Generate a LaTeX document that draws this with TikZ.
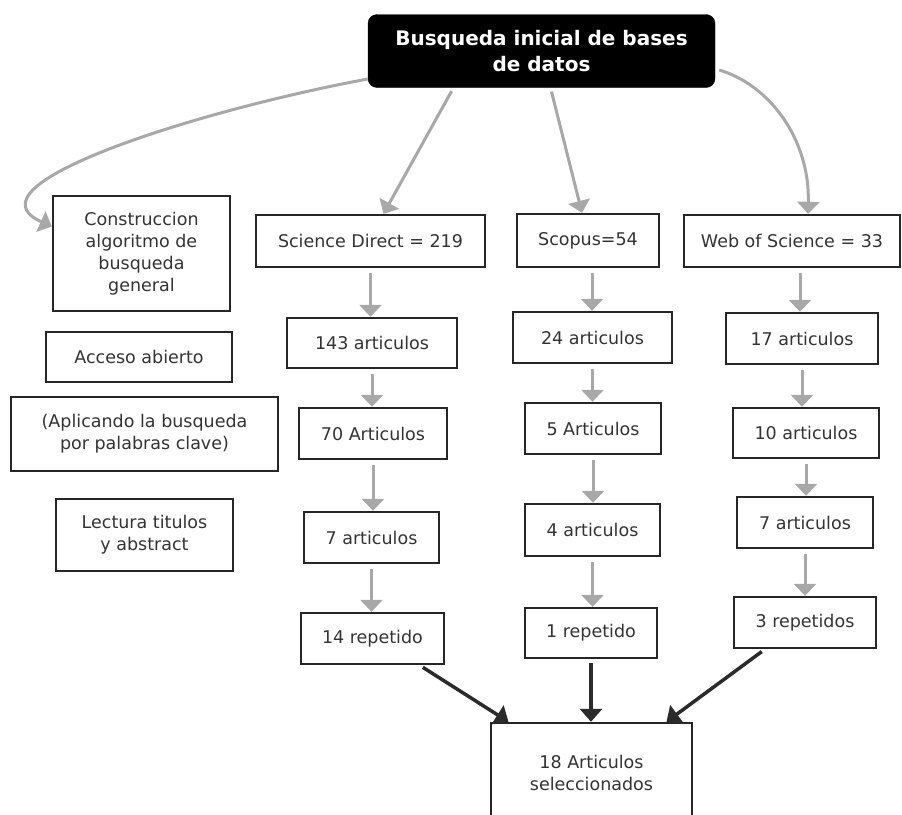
\documentclass[tikz,border=0pt]{standalone}
\usepackage{fontspec}
\setmainfont{DejaVu Sans}
\usetikzlibrary{arrows.meta,calc}
\definecolor{txt}{HTML}{333333}
\definecolor{bord}{HTML}{262626}
\definecolor{garrow}{HTML}{A8A8A8}
\definecolor{darrow}{HTML}{2B2B2B}
\begin{document}
\begin{tikzpicture}[x=1pt,y=-1pt,
  bx/.style={draw=bord,line width=2.4pt,inner sep=0pt,align=center,text=txt,
     font=\fontsize{17.5}{22}\selectfont},
  topbox/.style={fill=black,draw=black,rounded corners=9pt,inner sep=0pt,align=center,
     text=white,font=\bfseries\fontsize{20}{26}\selectfont},
  garr/.style={draw=garrow,line width=3pt,-{Triangle[width=22pt,length=12pt]},shorten <=5pt},
  darr/.style={draw=darrow,line width=3.5pt,-{Triangle[width=22pt,length=13pt]},shorten <=4pt}
]
\useasboundingbox (0,0) rectangle (902,814);
% nodes
\node[topbox,minimum width=347pt,minimum height=73pt] (top) at (541.5,51) {Busqueda inicial de bases\\de datos};
\node[bx,minimum width=177pt,minimum height=115pt] (cons) at (141.5,253.5) {Construccion\\algoritmo de\\busqueda\\general};
\node[bx,minimum width=186pt,minimum height=50pt] (acc) at (139,357) {Acceso abierto};
\node[bx,minimum width=267pt,minimum height=74pt] (apl) at (144.5,434) {(Aplicando la busqueda\\por palabras clave)};
\node[bx,minimum width=177pt,minimum height=72pt] (lec) at (144.5,535) {Lectura titulos\\y abstract};

\node[bx,minimum width=229pt,minimum height=52pt] (sd) at (370.5,241) {Science Direct = 219};
\node[bx,minimum width=142pt,minimum height=53pt] (sc) at (588,240.5) {Scopus=54};
\node[bx,minimum width=216pt,minimum height=52pt] (wos) at (792,241) {Web of Science = 33};

\node[bx,minimum width=170pt,minimum height=50pt] (a143) at (372,343) {143 articulos};
\node[bx,minimum width=159pt,minimum height=51pt] (a24) at (592.5,337.5) {24 articulos};
\node[bx,minimum width=152pt,minimum height=51pt] (a17) at (802,338.5) {17 articulos};

\node[bx,minimum width=148pt,minimum height=51pt] (a70) at (373,433.5) {70 Articulos};
\node[bx,minimum width=136pt,minimum height=51pt] (a5) at (593,428.5) {5 Articulos};
\node[bx,minimum width=146pt,minimum height=50pt] (a10) at (806,433) {10 articulos};

\node[bx,minimum width=135pt,minimum height=51pt] (a7sd) at (371.5,537.5) {7 articulos};
\node[bx,minimum width=135pt,minimum height=52pt] (a4) at (592.5,530) {4 articulos};
\node[bx,minimum width=136pt,minimum height=51pt] (a7w) at (805,522.5) {7 articulos};

\node[bx,minimum width=143pt,minimum height=51pt] (r14) at (372.5,638.5) {14 repetido};
\node[bx,minimum width=132pt,minimum height=50pt] (r1) at (591,633) {1 repetido};
\node[bx,minimum width=142pt,minimum height=51pt] (r3) at (805,622.5) {3 repetidos};

\node[bx,minimum width=201pt,minimum height=100pt] (fin) at (591.5,773) {18 Articulos\\seleccionados};

% top connectors
\draw[garr,shorten <=0pt] ([yshift=-28pt]top.west) .. controls (200,110) and (-40,185) .. ([yshift=27pt]cons.west);
\draw[garr,shorten <=4pt] ([xshift=-88pt]top.south) -- ([xshift=13pt]sd.north);
\draw[garr,shorten <=4pt] ([xshift=9pt]top.south) -- ([xshift=-6pt]sc.north);
\draw[garr,shorten <=0pt] ([xshift=4pt,yshift=-19pt]top.east) .. controls (770,85) and (810,140) .. ([xshift=16pt]wos.north);

% column connectors
\draw[garr] (sd.south) -- (sd.south |- a143.north);
\draw[garr] (a143.south) -- (a143.south |- a70.north);
\draw[garr] (a70.south) -- (a70.south |- a7sd.north);
\draw[garr] (a7sd.south) -- (a7sd.south |- r14.north);

\draw[garr] ([xshift=4pt]sc.south) -- ([xshift=4pt]sc.south |- a24.north);
\draw[garr] (a24.south) -- (a24.south |- a5.north);
\draw[garr] (a5.south) -- (a5.south |- a4.north);
\draw[garr] (a4.south) -- (a4.south |- r1.north);

\draw[garr] ([xshift=8pt]wos.south) -- ([xshift=8pt]wos.south |- a17.north);
\draw[garr] (a17.south) -- (a17.south |- a10.north);
\draw[garr] (a10.south) -- (a10.south |- a7w.north);
\draw[garr] (a7w.south) -- (a7w.south |- r3.north);

% final connectors
\draw[darr] ([xshift=47pt]r14.south) -- ([xshift=-83pt]fin.north);
\draw[darr] (r1.south) -- (r1.south |- fin.north);
\draw[darr] ([xshift=-40pt]r3.south) -- ([xshift=75pt]fin.north);
\end{tikzpicture}
\end{document}
